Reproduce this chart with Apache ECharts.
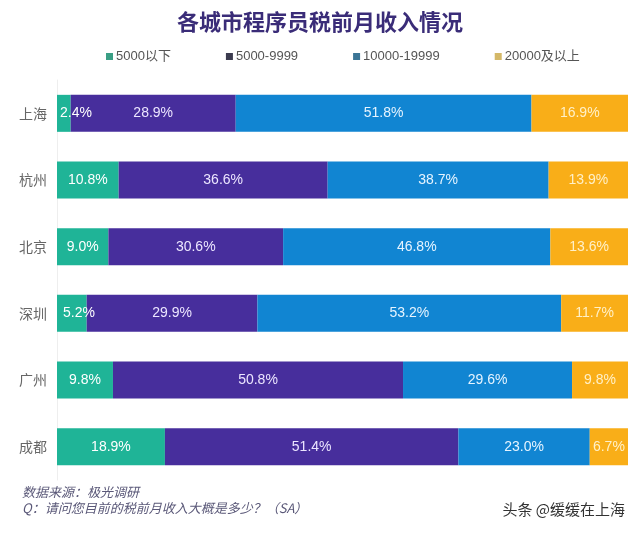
<!DOCTYPE html>
<html>
<head>
<meta charset="utf-8">
<script src="https://cdn.jsdelivr.net/npm/echarts@6/dist/echarts.min.js"></script>
<style>
html,body{margin:0;padding:0;background:#fff;}
#c{width:640px;height:534px;}
</style>
</head>
<body>
<div id="c"></div>
<script>
var cities = ['上海', '杭州', '北京', '深圳', '广州', '成都'];
var seriesNames = ['5000以下', '5000-9999', '10000-19999', '20000及以上'];
var below5000 = [2.4, 10.8, 9.0, 5.2, 9.8, 18.9];
var from5000to9999 = [28.9, 36.6, 30.6, 29.9, 50.8, 51.4];
var from10000to19999 = [51.8, 38.7, 46.8, 53.2, 29.6, 23.0];
var above20000 = [16.9, 13.9, 13.6, 11.7, 9.8, 6.7];

var values = [below5000, from5000to9999, from10000to19999, above20000];
var colors = ['#1fb497', '#472e9c', '#1185d2', '#f9ae18'];
var legendColors = ['#3a9f85', '#3b3b4f', '#3b7596', '#d4b868'];
var labelColors = ['#ffffff', '#ece6ff', '#e6f4ff', '#fff0c8'];

var chart = echarts.init(document.getElementById('c'), null, {renderer: 'canvas'});
var FONT = '"Noto Sans CJK SC", "Noto Sans", sans-serif';
var NUMFONT = '"Liberation Sans", Arial, "Noto Sans CJK SC", sans-serif';

var series = values.map(function (arr, i) {
  return {
    name: seriesNames[i],
    type: 'bar',
    stack: 'total',
    barWidth: 37,
    itemStyle: {color: colors[i]},
    label: {
      show: true,
      position: 'inside',
      color: labelColors[i],
      fontSize: 14,
      fontFamily: NUMFONT,
      formatter: function (p) { return p.value.toFixed(1) + '%'; }
    },
    data: arr.map(function (v) {
      if (i === 0 && v < 6) {
        return {value: v, label: {position: 'insideLeft', distance: v < 4 ? 3 : 6}};
      }
      return v;
    })
  };
});

chart.setOption({
  backgroundColor: '#ffffff',
  animation: false,
  title: {
    text: '各城市程序员税前月收入情况',
    left: 'center',
    top: 6,
    textStyle: {fontSize: 22, fontWeight: 'bold', color: '#3a2c78', fontFamily: FONT}
  },
  legend: {
    left: 101,
    top: 45,
    itemWidth: 7,
    itemHeight: 7,
    itemGap: 55,
    icon: 'rect',
    textStyle: {fontSize: 13, color: '#555', fontFamily: NUMFONT, padding: [0, 0, 0, -2]},
    data: seriesNames.map(function (n, i) {
      return {name: n, itemStyle: {color: legendColors[i]}};
    })
  },
  grid: {left: 57, right: 12, top: 80, bottom: 54},
  xAxis: {
    type: 'value',
    min: 0,
    max: 100,
    show: false
  },
  yAxis: {
    type: 'category',
    inverse: true,
    data: cities,
    axisLine: {show: true, lineStyle: {color: '#eeeeee'}},
    axisTick: {show: false},
    axisLabel: {fontSize: 14, color: '#666', margin: 10, fontFamily: FONT}
  },
  series: series,
  graphic: [
    {type: 'text', left: 22, top: 486, style: {text: '数据来源：极光调研', fontSize: 13, fontStyle: 'italic', fill: '#5a5878', fontFamily: FONT}},
    {type: 'text', left: 22, top: 502, style: {text: 'Q：请问您目前的税前月收入大概是多少？（SA）', fontSize: 13, fontStyle: 'italic', fill: '#5a5878', fontFamily: FONT}},
    {type: 'text', right: 15, top: 502, style: {text: '头条 @缓缓在上海', fontSize: 15, fill: '#333', fontFamily: FONT}}
  ]
});
</script>
</body>
</html>
